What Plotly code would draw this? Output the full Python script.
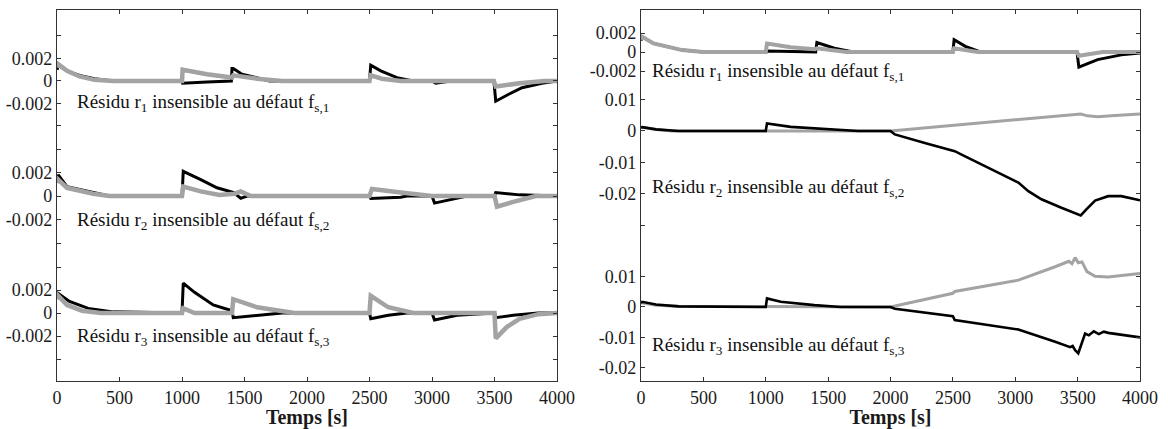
import plotly.graph_objects as go

# ---------------- data ----------------
# Left panel
L1_black_t = [0, 10, 80, 180, 300, 450, 1000, 1005, 1200, 1395, 1400, 1410, 1480, 1580, 1700, 2500, 2510, 2590, 2720, 2850, 3000, 3030, 3150, 3495, 3510, 3610, 3720, 3880, 4000]
L1_black_v = [0.0010, 0.0014, 0.0009, 0.0005, 0.0002, 0.0, 0.0, -0.0002, -0.0001, 0.0, 0.0011, 0.0011, 0.0006, 0.0003, 0.0, 0.0, 0.0014, 0.0009, 0.0003, 0.0, 0.0, -0.0002, 0.0, 0.0, -0.0018, -0.0012, -0.0006, -0.0002, 0.0]
L1_gray_t = [0, 10, 80, 180, 300, 450, 1000, 1005, 1200, 1395, 1400, 1410, 1600, 1800, 2500, 2510, 2600, 2750, 3495, 3510, 3700, 3900, 4000]
L1_gray_v = [0.0012, 0.0015, 0.0009, 0.0004, 0.0001, 0.0, 0.0, 0.0010, 0.0006, 0.0003, 0.0003, 0.0005, 0.0002, 0.0, 0.0, 0.0005, 0.0002, 0.0, 0.0, -0.0005, -0.0002, 0.0, 0.0]

L2_black_t = [0, 10, 80, 290, 420, 1000, 1010, 1150, 1280, 1415, 1470, 1520, 1600, 2500, 2510, 2750, 2800, 3000, 3020, 3150, 3280, 3500, 3510, 3700, 3900, 4000]
L2_black_v = [0.0014, 0.0018, 0.0008, 0.0003, 0.0, 0.0, 0.0021, 0.0014, 0.0007, 0.0003, -0.0002, 0.0, 0.0, 0.0, -0.0002, -0.0001, 0.0, 0.0, -0.0006, -0.0003, 0.0, 0.0, 0.0003, 0.0001, 0.0, 0.0]
L2_gray_t = [0, 10, 80, 290, 420, 1000, 1010, 1150, 1300, 1420, 1470, 1550, 2500, 2520, 2750, 3000, 3500, 3520, 3650, 3830, 4000]
L2_gray_v = [0.0011, 0.0014, 0.0007, 0.0002, 0.0, 0.0, 0.0008, 0.0004, 0.0001, 0.0002, 0.0004, 0.0, 0.0, 0.0006, 0.0003, 0.0, 0.0, -0.0009, -0.0005, 0.0, 0.0]

L3_black_t = [0, 10, 100, 250, 450, 1000, 1010, 1100, 1250, 1395, 1400, 1410, 1600, 1800, 2500, 2510, 2650, 2800, 3000, 3020, 3200, 3500, 3510, 3650, 3850, 4000]
L3_black_v = [0.0013, 0.0017, 0.0010, 0.0004, 0.0001, 0.0, 0.0026, 0.0018, 0.0007, 0.0002, 0.0002, -0.0004, -0.0002, 0.0, 0.0, -0.0005, -0.0002, 0.0, 0.0, -0.0006, -0.0002, 0.0, -0.0004, -0.0002, 0.0, 0.0]
L3_gray_t = [0, 10, 80, 200, 350, 1000, 1010, 1100, 1395, 1400, 1410, 1600, 1900, 2500, 2510, 2650, 2850, 3500, 3510, 3600, 3700, 3850, 4000]
L3_gray_v = [0.0012, 0.0015, 0.0007, 0.0002, 0.0, 0.0, 0.0004, 0.0, 0.0, 0.0, 0.0012, 0.0005, 0.0, 0.0, 0.0015, 0.0005, 0.0, 0.0, -0.0022, -0.0012, -0.0005, -0.0001, 0.0]

# Right panel
R1_black_t = [0, 10, 100, 330, 500, 1000, 1010, 1390, 1400, 1410, 1550, 1700, 2500, 2510, 2600, 2720, 3495, 3510, 3660, 3850, 4000]
R1_black_v = [0.0012, 0.0016, 0.0009, 0.0002, 0.0, 0.0, 0.0001, 0.0, 0.0, 0.0010, 0.0004, 0.0, 0.0, 0.0013, 0.0006, 0.0, 0.0, -0.0016, -0.0008, -0.0003, -0.0001]
R1_gray_t = [0, 10, 100, 330, 500, 1000, 1010, 1200, 1395, 1400, 1410, 1650, 2500, 2510, 2700, 3495, 3510, 3700, 4000]
R1_gray_v = [0.0013, 0.0016, 0.0009, 0.0002, 0.0, 0.0, 0.0009, 0.0005, 0.0003, 0.0003, 0.0004, 0.0, 0.0, 0.0004, 0.0, 0.0, -0.0004, 0.0, 0.0]

R2_black_t = [0, 10, 120, 300, 1000, 1010, 1200, 1470, 1740, 2000, 2035, 2275, 2515, 2570, 2785, 2945, 3025, 3105, 3210, 3370, 3525, 3570, 3640, 3745, 3850, 4000]
R2_black_v = [0.0010, 0.0012, 0.0005, 0.0, 0.0, 0.0024, 0.0013, 0.0006, 0.0, 0.0, -0.0011, -0.0038, -0.0064, -0.0075, -0.0117, -0.0147, -0.0164, -0.0191, -0.0217, -0.0244, -0.0268, -0.0249, -0.0221, -0.0207, -0.0207, -0.0220]
R2_gray_t = [0, 10, 120, 250, 2000, 2500, 3000, 3525, 3580, 3660, 3800, 4000]
R2_gray_v = [0.0010, 0.0012, 0.0005, 0.0, 0.0, 0.0018, 0.0036, 0.0054, 0.0048, 0.0045, 0.0049, 0.0054]

R3_black_t = [0, 10, 120, 300, 1000, 1010, 1120, 1390, 1600, 2000, 2035, 2500, 2515, 3025, 3320, 3400, 3440, 3460, 3480, 3505, 3530, 3560, 3590, 3630, 3670, 3710, 3745, 4000]
R3_black_v = [0.0013, 0.0017, 0.0008, 0.0002, 0.0, 0.0028, 0.0017, 0.0006, 0.0, 0.0, -0.0006, -0.0030, -0.0043, -0.0074, -0.0114, -0.0125, -0.0132, -0.0128, -0.0142, -0.0152, -0.0120, -0.0087, -0.0093, -0.0080, -0.0089, -0.0081, -0.0085, -0.0100]
R3_gray_t = [0, 10, 120, 300, 2000, 2500, 2515, 3025, 3320, 3400, 3430, 3455, 3480, 3505, 3535, 3575, 3640, 3745, 4000]
R3_gray_v = [0.0012, 0.0014, 0.0006, 0.0002, 0.0, 0.0045, 0.0051, 0.0088, 0.0132, 0.0145, 0.0150, 0.0142, 0.0162, 0.0145, 0.0148, 0.0116, 0.0101, 0.0098, 0.0110]

x_ticks = [0, 500, 1000, 1500, 2000, 2500, 3000, 3500, 4000]
L_yticks = [-0.004, -0.002, 0, 0.002, 0.004]
L_yticktext = ["", "-0.002", "0", "0.002", ""]
R1_yticks = [-0.002, 0, 0.002]
R1_yticktext = ["-0.002", "0", "0.002"]
R2_yticks = [-0.03, -0.02, -0.01, 0, 0.01]
R2_yticktext = ["", "-0.02", "-0.01", "0", "0.01"]
R3_yticks = [-0.02, -0.01, 0, 0.01]
R3_yticktext = ["-0.02", "-0.01", "0", "0.01"]

labels = [
    "Résidu r<sub>1</sub> insensible au défaut f<sub>s,1</sub>",
    "Résidu r<sub>2</sub> insensible au défaut f<sub>s,2</sub>",
    "Résidu r<sub>3</sub> insensible au défaut f<sub>s,3</sub>",
]

# ---------------- figure ----------------
W, H = 1168, 429
FONT = "Liberation Serif, Times New Roman, serif"
GRAY = "#a3a3a3"
AX = "#333333"

def px_x(p):
    return p / W

def px_y(p):
    return 1 - p / H

fig = go.Figure()

def add(t, v, xa, ya, color, width):
    fig.add_trace(go.Scatter(x=t, y=v, xaxis=xa, yaxis=ya, mode="lines",
                             line=dict(color=color, width=width),
                             hoverinfo="skip", showlegend=False))

# left panel traces
add(L1_black_t, L1_black_v, "x2", "y", "black", 3)
add(L1_gray_t, L1_gray_v, "x2", "y", GRAY, 4.5)
add(L2_black_t, L2_black_v, "x3", "y2", "black", 3)
add(L2_gray_t, L2_gray_v, "x3", "y2", GRAY, 4.5)
add(L3_black_t, L3_black_v, "x", "y3", "black", 3)
add(L3_gray_t, L3_gray_v, "x", "y3", GRAY, 4.5)
# right panel traces
add(R1_black_t, R1_black_v, "x5", "y4", "black", 3)
add(R1_gray_t, R1_gray_v, "x5", "y4", GRAY, 4)
add(R2_gray_t, R2_gray_v, "x6", "y5", GRAY, 3)
add(R2_black_t, R2_black_v, "x6", "y5", "black", 2.6)
add(R3_gray_t, R3_gray_v, "x4", "y6", GRAY, 3)
add(R3_black_t, R3_black_v, "x4", "y6", "black", 2.6)

tickfont = dict(family=FONT, size=18, color="#1a1a1a")

def xaxis(dom, anchor, side="bottom", labels=False, visible=True):
    d = dict(domain=dom, anchor=anchor, range=[0, 4000], side=side,
             showline=visible, linecolor=AX, linewidth=1.3,
             ticks="inside" if visible else "", ticklen=4, tickwidth=1, tickcolor=AX,
             tickvals=x_ticks, showticklabels=labels, tickfont=tickfont,
             showgrid=False, zeroline=False, visible=visible, automargin=False)
    if labels:
        d["title"] = dict(text="<b>Temps [s]</b>",
                          font=dict(family=FONT, size=20, color="#1a1a1a"),
                          standoff=2)
    return d

def yaxis(dom, anchor, rng, tv, tt):
    return dict(domain=dom, anchor=anchor, range=rng,
                showline=True, linecolor=AX, linewidth=1.3, mirror="ticks",
                ticks="inside", ticklen=4, tickwidth=1, tickcolor=AX,
                tickvals=tv, ticktext=tt, tickfont=tickfont,
                showgrid=False, zeroline=False, automargin=False)

LX = [px_x(57), px_x(557)]
RX = [px_x(641), px_x(1140)]

fig.update_layout(
    width=W, height=H, autosize=False,
    margin=dict(l=0, r=0, t=0, b=0, pad=0),
    paper_bgcolor="white", plot_bgcolor="white",
    showlegend=False,
    xaxis=xaxis(LX, "y3", labels=True),
    xaxis2=xaxis(LX, "y", side="top"),
    xaxis3=xaxis(LX, "y2", visible=False),
    xaxis4=xaxis(RX, "y6", labels=True),
    xaxis5=xaxis(RX, "y4", side="top"),
    xaxis6=xaxis(RX, "y5", visible=False),
    yaxis=yaxis([px_y(138), px_y(10)], "x2", [-0.00507, 0.00631], L_yticks, L_yticktext),
    yaxis2=yaxis([px_y(255.5), px_y(138)], "x3", [-0.00506, 0.00494], L_yticks, L_yticktext),
    yaxis3=yaxis([px_y(381), px_y(255.5)], "x", [-0.00591, 0.005], L_yticks, L_yticktext),
    yaxis4=yaxis([px_y(85), px_y(10)], "x5", [-0.00347, 0.00442], R1_yticks, R1_yticktext),
    yaxis5=yaxis([px_y(250), px_y(85)], "x6", [-0.0378, 0.0146], R2_yticks, R2_yticktext),
    yaxis6=yaxis([px_y(381), px_y(250)], "x4", [-0.0243, 0.0187], R3_yticks, R3_yticktext),
)

ann_font = dict(family=FONT, size=19, color="#111111")
left_pos = [(75, 103), (75, 221), (75, 337)]
right_pos = [(650, 72), (650, 188), (650, 346)]
for txt, (x, y) in zip(labels, left_pos):
    fig.add_annotation(text=txt, xref="paper", yref="paper", x=px_x(x), y=px_y(y),
                       xanchor="left", yanchor="middle", showarrow=False, font=ann_font)
for txt, (x, y) in zip(labels, right_pos):
    fig.add_annotation(text=txt, xref="paper", yref="paper", x=px_x(x), y=px_y(y),
                       xanchor="left", yanchor="middle", showarrow=False, font=ann_font)

fig.write_html("out.html", config={"displayModeBar": False},
               post_script="document.body.style.margin='0';document.body.style.overflow='hidden';")
